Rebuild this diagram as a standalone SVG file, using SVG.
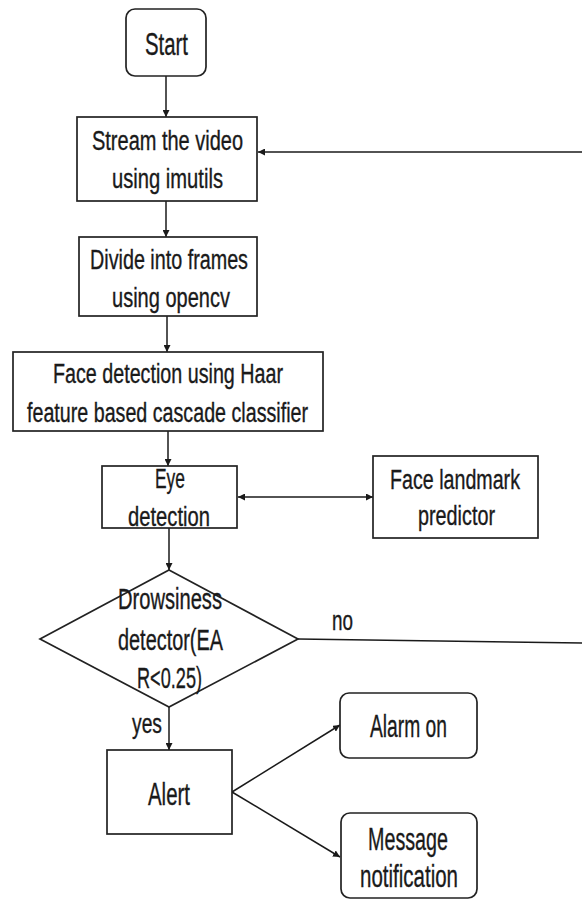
<svg xmlns="http://www.w3.org/2000/svg" width="582" height="901" viewBox="0 0 582 901">
<defs>
<marker id="ah" viewBox="0 0 10 10" refX="10" refY="5" markerWidth="7" markerHeight="7" markerUnits="userSpaceOnUse" orient="auto-start-reverse">
<path d="M0,0 L10,5 L0,10 z" fill="#1a1a1a"/>
</marker>
<style>
.box{fill:#fff;stroke:#222;stroke-width:1.7}
.t{font-family:"Liberation Sans",Arial,sans-serif;fill:#1a1a1a;stroke:#1a1a1a;stroke-width:0.35;text-anchor:start}
.c{fill:none;stroke:#1a1a1a;stroke-width:1.5}
</style>
</defs>
<rect width="582" height="901" fill="#fff"/>
<g id="connectors">
<line class="c" x1="166" y1="76" x2="166" y2="117" marker-end="url(#ah)"/>
<line class="c" x1="166" y1="201" x2="166" y2="237" marker-end="url(#ah)"/>
<line class="c" x1="167" y1="316" x2="167" y2="352" marker-end="url(#ah)"/>
<line class="c" x1="168" y1="431" x2="168" y2="466" marker-end="url(#ah)"/>
<line class="c" x1="238" y1="497" x2="373" y2="497" marker-start="url(#ah)" marker-end="url(#ah)"/>
<line class="c" x1="169" y1="528" x2="169" y2="570" marker-end="url(#ah)"/>
<line class="c" x1="169" y1="707" x2="169" y2="750" marker-end="url(#ah)"/>
<line class="c" x1="298" y1="639" x2="582" y2="643"/>
<line class="c" x1="582" y1="152" x2="258" y2="152" marker-end="url(#ah)"/>
<line class="c" x1="232" y1="792" x2="340" y2="725" marker-end="url(#ah)"/>
<line class="c" x1="232" y1="792" x2="340" y2="857" marker-end="url(#ah)"/>
<text class="t" x="332" y="630" font-size="27" textLength="21" lengthAdjust="spacingAndGlyphs">no</text>
<text class="t" x="132" y="733" font-size="27" textLength="30" lengthAdjust="spacingAndGlyphs">yes</text>
</g>
<g id="start">
<rect class="box" x="126" y="9" width="80" height="67" rx="9"/>
<text class="t" x="145" y="55" font-size="31" textLength="43" lengthAdjust="spacingAndGlyphs">Start</text>
</g>
<g id="stream">
<rect class="box" x="77" y="117" width="180" height="84"/>
<text class="t" x="92" y="150" font-size="27" textLength="151" lengthAdjust="spacingAndGlyphs">Stream the video</text>
<text class="t" x="112" y="188" font-size="27" textLength="111" lengthAdjust="spacingAndGlyphs">using imutils</text>
</g>
<g id="divide">
<rect class="box" x="79" y="237" width="178" height="79"/>
<text class="t" x="90" y="269" font-size="27" textLength="158" lengthAdjust="spacingAndGlyphs">Divide into frames</text>
<text class="t" x="112" y="307" font-size="27" textLength="118" lengthAdjust="spacingAndGlyphs">using opencv</text>
</g>
<g id="face">
<rect class="box" x="13" y="352" width="310" height="79"/>
<text class="t" x="53" y="383" font-size="27" textLength="230" lengthAdjust="spacingAndGlyphs">Face detection using Haar</text>
<text class="t" x="27" y="422" font-size="27" textLength="281" lengthAdjust="spacingAndGlyphs">feature based cascade classifier</text>
</g>
<g id="eye">
<rect class="box" x="102" y="466" width="135" height="62"/>
<text class="t" x="155" y="488" font-size="27" textLength="30" lengthAdjust="spacingAndGlyphs">Eye</text>
<text class="t" x="128" y="526" font-size="27" textLength="82" lengthAdjust="spacingAndGlyphs">detection</text>
</g>
<g id="landmark">
<rect class="box" x="373" y="456" width="165" height="82"/>
<text class="t" x="390" y="489" font-size="27" textLength="130" lengthAdjust="spacingAndGlyphs">Face landmark</text>
<text class="t" x="418" y="525" font-size="27" textLength="77" lengthAdjust="spacingAndGlyphs">predictor</text>
</g>
<g id="decision">
<polygon class="box" points="169,570 298,639 169,707 40,639"/>
<text class="t" x="118" y="609" font-size="29" textLength="104" lengthAdjust="spacingAndGlyphs">Drowsiness</text>
<text class="t" x="118" y="650" font-size="29" textLength="105" lengthAdjust="spacingAndGlyphs">detector(EA</text>
<text class="t" x="137" y="688" font-size="29" textLength="65" lengthAdjust="spacingAndGlyphs">R&lt;0.25)</text>
</g>
<g id="alert">
<rect class="box" x="107" y="750" width="125" height="84"/>
<text class="t" x="148" y="805" font-size="31" textLength="42" lengthAdjust="spacingAndGlyphs">Alert</text>
</g>
<g id="alarm">
<rect class="box" x="340" y="693" width="137" height="65" rx="9"/>
<text class="t" x="370" y="737" font-size="31" textLength="77" lengthAdjust="spacingAndGlyphs">Alarm on</text>
</g>
<g id="message">
<rect class="box" x="341" y="813" width="136" height="85" rx="9"/>
<text class="t" x="368" y="850" font-size="31" textLength="80" lengthAdjust="spacingAndGlyphs">Message</text>
<text class="t" x="360" y="887" font-size="31" textLength="98" lengthAdjust="spacingAndGlyphs">notification</text>
</g>
</svg>
